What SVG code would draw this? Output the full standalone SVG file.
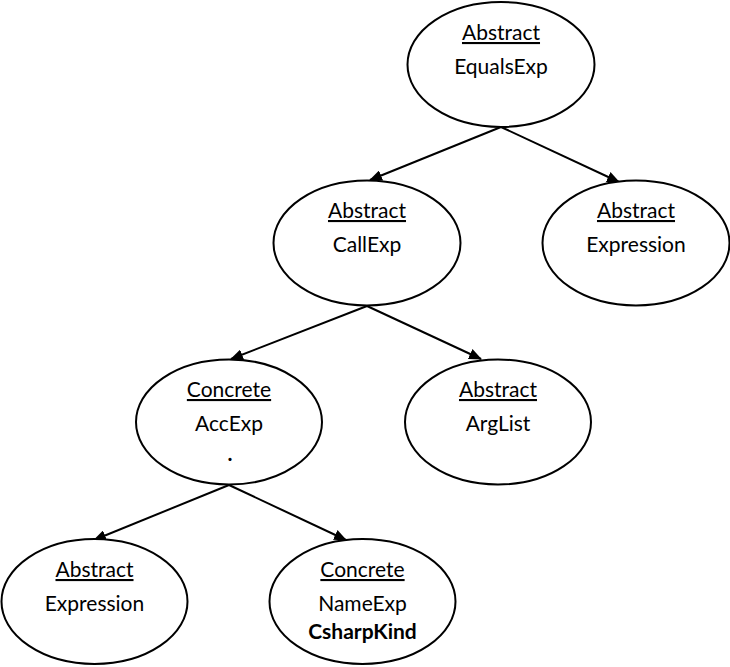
<svg xmlns="http://www.w3.org/2000/svg" width="730" height="667" viewBox="0 0 730 667">
<defs>
<style>
.node ellipse{fill:#fff;stroke:#000;stroke-width:2}
.node text{font-family:Lato,"Open Sans","Liberation Sans",sans-serif;font-size:21px;fill:#000;text-anchor:middle}
.node text.h{text-decoration:underline}
.node text.b{font-weight:bold}
.edges line{stroke:#000;stroke-width:2;marker-end:url(#arr)}
</style>
<marker id="arr" viewBox="0 0 12 10" refX="11" refY="5" markerWidth="6.5" markerHeight="5.5" orient="auto" markerUnits="strokeWidth">
<path d="M0,0 L12,5 L0,10 z" fill="#000"/>
</marker>
</defs>
<rect width="730" height="667" fill="#fff"/>
<g class="edges">
<line x1="501" y1="127" x2="370" y2="180"/>
<line x1="501" y1="127" x2="619" y2="182"/>
<line x1="367" y1="306" x2="231" y2="359"/>
<line x1="367" y1="306" x2="481" y2="359"/>
<line x1="229" y1="485" x2="94" y2="540"/>
<line x1="229" y1="485" x2="346" y2="540"/>
</g>
<g class="node" id="equalsexp">
<ellipse cx="501" cy="64.5" rx="93.5" ry="62.5"/>
<text class="h" x="501" y="40">Abstract</text>
<text x="501" y="74">EqualsExp</text>
</g>
<g class="node" id="callexp">
<ellipse cx="367" cy="243" rx="93.5" ry="62.5"/>
<text class="h" x="367" y="218">Abstract</text>
<text x="367" y="252">CallExp</text>
</g>
<g class="node" id="expression1">
<ellipse cx="636" cy="243" rx="93.5" ry="62.5"/>
<text class="h" x="636" y="218">Abstract</text>
<text x="636" y="252">Expression</text>
</g>
<g class="node" id="accexp">
<ellipse cx="229" cy="422" rx="93" ry="62.5"/>
<text class="h" x="229" y="397">Concrete</text>
<text x="229" y="431">AccExp</text>
<text class="b" x="230" y="461">.</text>
</g>
<g class="node" id="arglist">
<ellipse cx="498" cy="422" rx="93" ry="62.5"/>
<text class="h" x="498" y="397">Abstract</text>
<text x="498" y="431">ArgList</text>
</g>
<g class="node" id="expression2">
<ellipse cx="94.5" cy="601.5" rx="93" ry="62.5"/>
<text class="h" x="94.5" y="577">Abstract</text>
<text x="94.5" y="611">Expression</text>
</g>
<g class="node" id="nameexp">
<ellipse cx="362.5" cy="601.5" rx="93" ry="62.5"/>
<text class="h" x="362.5" y="577">Concrete</text>
<text x="362.5" y="611">NameExp</text>
<text class="b" x="362.5" y="639">CsharpKind</text>
</g>
</svg>
